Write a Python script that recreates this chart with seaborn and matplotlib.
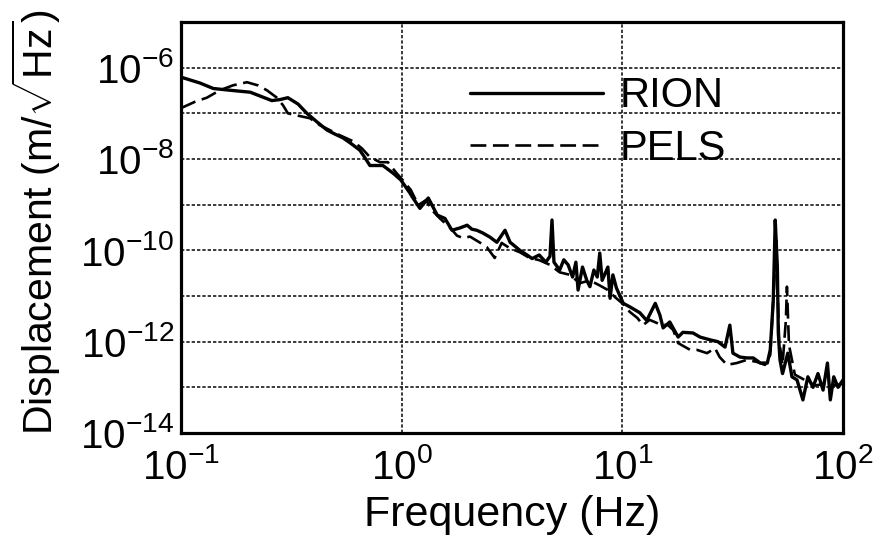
import matplotlib
matplotlib.use("Agg")
import matplotlib.pyplot as plt
from matplotlib.ticker import FixedLocator, FuncFormatter, NullLocator
import numpy as np
import seaborn as sns

# Displacement spectra of the two seismometers (frequency in Hz, displacement in m/sqrt(Hz))
rion_freq = [0.100, 0.122, 0.140, 0.167, 0.206, 0.233, 0.258, 0.281, 0.305, 0.339,
             0.372, 0.413, 0.459, 0.499, 0.542, 0.596, 0.647, 0.683, 0.718, 0.822,
             0.914, 0.99, 1.09, 1.12, 1.21, 1.32, 1.45, 1.57, 1.69, 1.84,
             1.98, 2.08, 2.19, 2.33, 2.51, 2.70, 2.94, 3.10, 3.26, 3.43,
             3.70, 3.90, 4.20, 4.50, 4.70, 4.80, 4.90, 5.20, 5.43, 5.68,
             5.95, 6.16, 6.30, 6.60, 6.90, 7.13, 7.43, 7.70, 7.90, 8.10,
             8.60, 8.80, 9.06, 9.40, 10.1, 10.8, 12.0, 12.9, 14.1, 14.8,
             15.3, 16.4, 17.9, 18.8, 20.9, 22.5, 24.9, 27.1, 29.2, 30.7,
             31.7, 34.1, 36.7, 39.2, 42.2, 45.4, 46.8, 48.3, 49.3, 50.4,
             50.9, 51.8, 53.2, 56.2, 58.7, 61.9, 65.8, 69.3, 73.1, 77.0,
             81.2, 85.0, 87.6, 90.8, 94.9, 100.0]
rion_disp = [6.2e-7, 4.6e-7, 3.5e-7, 3.2e-7, 2.9e-7, 2.3e-7, 1.9e-7, 2.0e-7, 2.2e-7, 1.6e-7,
             1.0e-7, 6.5e-8, 4.3e-8, 3.5e-8, 2.9e-8, 2.1e-8, 1.55e-8, 1.05e-8, 7.2e-9, 7.2e-9,
             4.9e-9, 3.5e-9, 1.8e-9, 1.45e-9, 8.3e-10, 1.4e-9, 5.9e-10, 5.0e-10, 2.75e-10, 3.1e-10,
             3.55e-10, 2.9e-10, 2.75e-10, 2.4e-10, 1.95e-10, 1.5e-10, 2.75e-10, 1.5e-10, 1.23e-10, 1.0e-10,
             7.9e-11, 6.6e-11, 7.9e-11, 5.5e-11, 7.4e-11, 4.6e-10, 5.5e-11, 3.7e-11, 6.2e-11, 4.8e-11,
             2.6e-11, 5.5e-11, 1.35e-11, 4.3e-11, 2.2e-11, 1.6e-11, 3.7e-11, 2.6e-11, 8.7e-11, 2.2e-11,
             4.3e-11, 8.9e-12, 2.9e-11, 1.5e-11, 6.9e-12, 5.8e-12, 4.3e-12, 2.9e-12, 6.9e-12, 3.8e-12,
             2.0e-12, 2.7e-12, 1.26e-12, 1.6e-12, 1.55e-12, 1.26e-12, 1.1e-12, 1.0e-12, 7.6e-13, 2.3e-12,
             5.6e-13, 4.6e-13, 4.4e-13, 4.4e-13, 3.4e-13, 3.4e-13, 6.6e-13, 8.1e-12, 4.6e-10, 4.3e-11,
             1.55e-12, 4.0e-13, 2.0e-13, 5.6e-13, 1.7e-13, 1.45e-13, 5.3e-14, 1.7e-13, 1.0e-13, 2.0e-13,
             8.7e-14, 3.4e-13, 5.3e-14, 1.7e-13, 1.0e-13, 1.45e-13]

pels_freq = [0.100, 0.116, 0.131, 0.150, 0.172, 0.199, 0.223, 0.245, 0.272, 0.290,
             0.305, 0.346, 0.384, 0.426, 0.472, 0.525, 0.602, 0.661, 0.718, 0.798,
             0.866, 0.942, 1.03, 1.10, 1.19, 1.29, 1.37, 1.49, 1.66, 1.78,
             1.90, 2.04, 2.25, 2.43, 2.64, 2.84, 3.10, 3.43, 3.80, 4.20,
             4.70, 5.20, 5.80, 6.40, 7.13, 7.90, 8.60, 9.25, 10.0, 10.8,
             11.7, 12.4, 13.3, 14.8, 16.1, 17.0, 17.9, 20.3, 21.8, 24.2,
             26.3, 27.6, 29.8, 33.0, 36.7, 40.7, 44.3, 46.8, 48.6, 49.8,
             51.3, 53.2, 55.1, 55.7, 56.9, 60.5, 67.0, 74.8, 83.3, 92.8,
             100.0]
pels_disp = [1.3e-7, 1.8e-7, 2.2e-7, 3.2e-7, 4.1e-7, 4.8e-7, 4.1e-7, 3.2e-7, 2.2e-7, 1.5e-7,
             1.0e-7, 8.7e-8, 7.8e-8, 5.5e-8, 4.3e-8, 3.3e-8, 2.45e-8, 1.7e-8, 1.1e-8, 8.5e-9,
             8.5e-9, 5.1e-9, 3.1e-9, 2.1e-9, 9.8e-10, 1.26e-9, 7.6e-10, 5.0e-10, 3.1e-10, 2.1e-10,
             1.85e-10, 2.0e-10, 1.5e-10, 1.18e-10, 6.8e-11, 1.45e-10, 1.1e-10, 9.1e-11, 6.8e-11, 6.1e-11,
             4.8e-11, 3.3e-11, 2.9e-11, 1.9e-11, 2.2e-11, 1.7e-11, 1.35e-11, 9.5e-12, 6.9e-12, 4.5e-12,
             3.3e-12, 2.3e-12, 3.0e-12, 2.4e-12, 2.3e-12, 1.8e-12, 9.3e-13, 6.6e-13, 6.6e-13, 5.6e-13,
             7.2e-13, 4.6e-13, 3.1e-13, 3.4e-13, 4.0e-13, 3.6e-13, 3.1e-13, 5.1e-13, 1.35e-11, 1.66e-10,
             1.1e-12, 3.1e-13, 3.0e-12, 1.6e-11, 8.5e-13, 1.9e-13, 1.45e-13, 1.1e-13, 1.2e-13, 1.1e-13,
             1.2e-13]

freq_ticks = [0.1, 1, 10, 100]
disp_ticks = [1e-14, 1e-13, 1e-12, 1e-11, 1e-10, 1e-9, 1e-8, 1e-7, 1e-6]

sns.set_style("white")
plt.rcParams["font.family"] = ["Liberation Sans", "DejaVu Sans"]
plt.rcParams["mathtext.fontset"] = "custom"
plt.rcParams["mathtext.rm"] = "Liberation Sans"
plt.rcParams["mathtext.it"] = "Liberation Sans:italic"
plt.rcParams["mathtext.bf"] = "Liberation Sans:bold"
plt.rcParams["mathtext.default"] = "regular"
plt.rcParams["text.color"] = "black"
plt.rcParams["axes.labelcolor"] = "black"
plt.rcParams["xtick.color"] = "black"
plt.rcParams["ytick.color"] = "black"

fig = plt.figure(figsize=(8.82, 5.43), dpi=100)
ax = fig.add_axes([0.2052, 0.2026, 0.7506, 0.7569])

sns.lineplot(x=rion_freq, y=rion_disp, ax=ax, color="black", lw=2.4,
             label="RION", estimator=None, sort=False, zorder=3)
sns.lineplot(x=pels_freq, y=pels_disp, ax=ax, color="black", lw=1.9,
             ls=(0, (6, 2.5)), label="PELS", estimator=None, sort=False, zorder=2)

ax.set_xscale("log")
ax.set_yscale("log")
ax.set_xlim(0.1, 100)
ax.set_ylim(1e-14, 1e-5)

ax.xaxis.set_major_locator(FixedLocator(freq_ticks))
ax.xaxis.set_minor_locator(NullLocator())
ax.yaxis.set_major_locator(FixedLocator(disp_ticks))
ax.yaxis.set_minor_locator(NullLocator())


def decade_label(v, pos):
    e = int(round(np.log10(v)))
    return r"$10^{%d}$" % e


def even_decade_label(v, pos):
    e = int(round(np.log10(v)))
    return r"$10^{%d}$" % e if e % 2 == 0 else ""


ax.xaxis.set_major_formatter(FuncFormatter(decade_label))
ax.yaxis.set_major_formatter(FuncFormatter(even_decade_label))

ax.grid(True, which="major", axis="both", color="0.1", lw=1.2, ls=(0, (2, 1.2)))
ax.tick_params(axis="both", length=0, labelsize=29, colors="black", labelcolor="black")
ax.tick_params(axis="x", pad=11)
ax.tick_params(axis="y", pad=5)

for s in ax.spines.values():
    s.set_visible(True)
    s.set_color("black")
    s.set_linewidth(2.3)

ax.set_xlabel("Frequency (Hz)", fontsize=31, color="black")
ax.xaxis.set_label_coords(0.5, -0.152)
ax.set_ylabel(r"Displacement (m/$\sqrt{\mathrm{Hz}}$)", fontsize=29.5, color="black")
ax.yaxis.set_label_coords(-0.178, 0.513)

leg = ax.legend(loc="upper left", bbox_to_anchor=(0.4366, 0.868), frameon=False,
                fontsize=30, handlelength=3.2, handletextpad=0.4, labelspacing=0.3,
                borderpad=0, borderaxespad=0)
for t in leg.get_texts():
    t.set_color("black")

fig.savefig("out.png", dpi=100, facecolor="white")
